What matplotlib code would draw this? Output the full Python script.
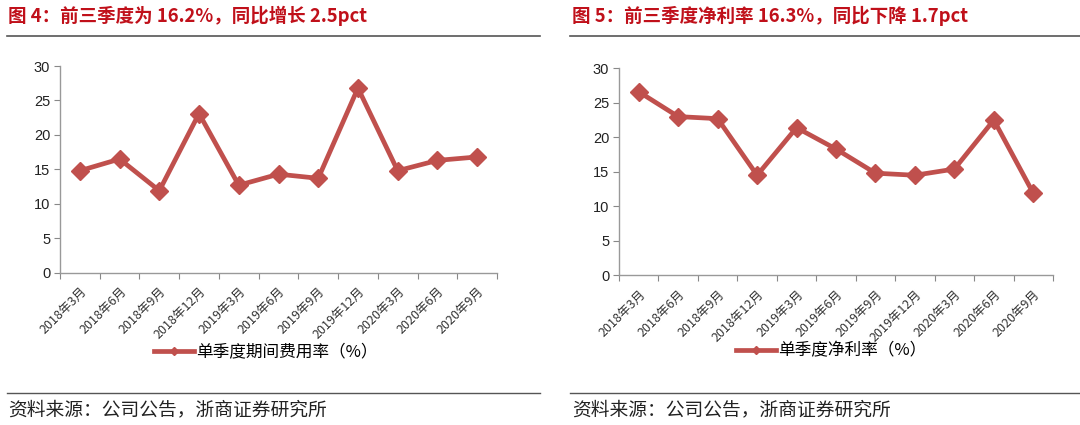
import matplotlib
matplotlib.use("Agg")
import matplotlib.pyplot as plt
from matplotlib.lines import Line2D

plt.rcParams['font.family'] = ['Noto Sans CJK SC', 'DejaVu Sans']

categories = ["2018年3月", "2018年6月", "2018年9月", "2018年12月", "2019年3月", "2019年6月",
              "2019年9月", "2019年12月", "2020年3月", "2020年6月", "2020年9月"]
expense_rate = [14.8, 16.5, 11.9, 23.1, 12.7, 14.3, 13.7, 26.8, 14.8, 16.3, 16.8]
net_margin = [26.6, 23.0, 22.7, 14.5, 21.4, 18.3, 14.8, 14.5, 15.4, 22.5, 11.9]

title_left = "图 4：前三季度为 16.2%，同比增长 2.5pct"
title_right = "图 5：前三季度净利率 16.3%，同比下降 1.7pct"
legend_left = "单季度期间费用率（%）"
legend_right = "单季度净利率（%）"
source = "资料来源：公司公告，浙商证券研究所"
yticks = [0, 5, 10, 15, 20, 25, 30]

W, H = 1080, 425
fig = plt.figure(figsize=(W / 100, H / 100), dpi=100)

LINE_C = '#C0504D'
TITLE_C = '#C0101A'


def px_axes(x0, x1, ytop, ybot):
    return fig.add_axes([x0 / W, 1 - ybot / H, (x1 - x0) / W, (ybot - ytop) / H])


def draw(ax, values, label, legend_xy):
    x = list(range(len(categories)))
    ax.plot(x, values, color=LINE_C, lw=3.4, marker='D', markersize=9,
            markeredgecolor=LINE_C, solid_joinstyle='miter')
    ax.set_xlim(-0.5, len(categories) - 0.5)
    ax.set_ylim(0, 30)
    ax.set_yticks(yticks)
    ax.set_yticklabels([str(v) for v in yticks], fontsize=10.5, color='#222222',
                       family=['Liberation Sans', 'DejaVu Sans'])
    ax.set_xticks([i + 0.5 for i in range(-1, len(categories))], minor=False)
    ax.set_xticklabels([])
    ax.set_xticks(x, minor=True)
    ax.set_xticklabels(categories, minor=True, rotation=45, ha='right', va='top',
                       rotation_mode='anchor', fontsize=9, color='#333333')
    ax.tick_params(axis='x', which='minor', length=0, pad=9)
    ax.tick_params(axis='x', which='major', length=4, color='#888888', direction='out')
    ax.tick_params(axis='y', length=4, color='#888888', direction='out', pad=3)
    for s in ['top', 'right']:
        ax.spines[s].set_visible(False)
    for s in ['left', 'bottom']:
        ax.spines[s].set_color('#999999')
        ax.spines[s].set_linewidth(1.0)
    handle = Line2D([], [], color=LINE_C, lw=3.4, marker='D', markersize=4)
    fig.legend([handle], [label], loc='center left',
               bbox_to_anchor=(legend_xy[0] / W, 1 - legend_xy[1] / H),
               frameon=False, fontsize=12, handlelength=2.4, handletextpad=0.1,
               borderpad=0, borderaxespad=0)


axL = px_axes(60, 497, 66, 272.7)
draw(axL, expense_rate, legend_left, (154, 352))
axR = px_axes(619, 1053, 68.3, 275.3)
draw(axR, net_margin, legend_right, (736, 351))

# Titles
fig.text(8 / W, 1 - 16 / H, title_left, fontsize=13.3, fontweight='bold', color=TITLE_C, va='center')
fig.text(572 / W, 1 - 16 / H, title_right, fontsize=13.3, fontweight='bold', color=TITLE_C, va='center')

# separator lines
for (x0, x1) in [(7, 540), (570, 1080)]:
    fig.add_artist(Line2D([x0 / W, x1 / W], [1 - 35.5 / H, 1 - 35.5 / H], color='#555555', lw=1.2))
    fig.add_artist(Line2D([x0 / W, x1 / W], [1 - 393 / H, 1 - 393 / H], color='#555555', lw=1.0))

fig.text(8 / W, 1 - 410 / H, source, fontsize=13.5, color='#222222', va='center')
fig.text(572 / W, 1 - 410 / H, source, fontsize=13.5, color='#222222', va='center')

fig.savefig('out.png', dpi=100)
